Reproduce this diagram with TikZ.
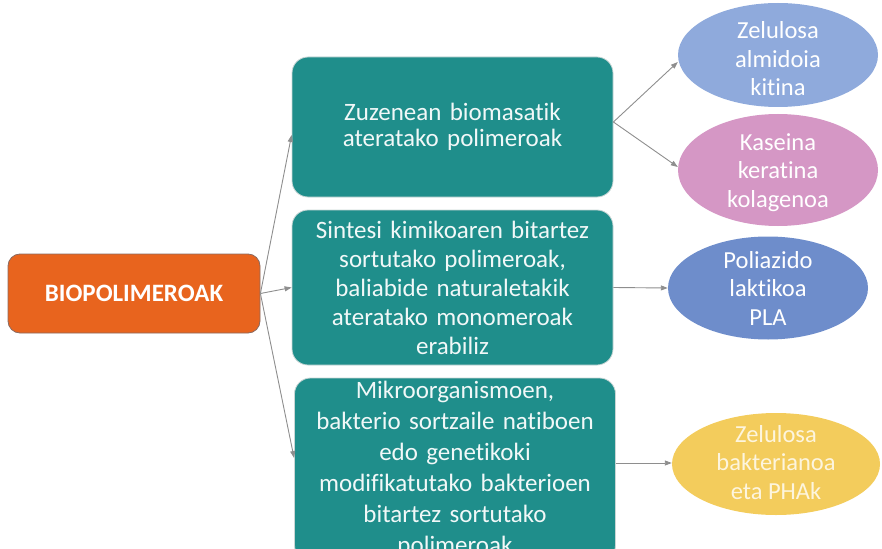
\documentclass[tikz,border=0pt]{standalone}
\usepackage{fontspec}
\setmainfont{Carlito}[Ligatures=NoCommon]
\usetikzlibrary{shapes.geometric,arrows.meta}
\definecolor{orangeF}{HTML}{E8641E}
\definecolor{orangeD}{HTML}{8A6A60}
\definecolor{tealF}{HTML}{1F8E8B}
\definecolor{tealD}{HTML}{C9D6D5}
\definecolor{ellA}{HTML}{8FAADC}
\definecolor{ellB}{HTML}{D597C5}
\definecolor{ellC}{HTML}{6E8DCB}
\definecolor{ellD}{HTML}{F3CC5C}
\definecolor{arrowG}{HTML}{8E8E8E}
\newcommand{\leaftext}[2]{\raisebox{-#1}[0pt][0pt]{\begin{tabular}{@{}c@{}}#2\end{tabular}}}
\begin{document}
\begin{tikzpicture}[x=1pt,y=-1pt,
  rootbox/.style={draw=orangeD, line width=0.8pt, fill=orangeF, rounded corners=12pt,
    minimum width=252pt, minimum height=79pt, inner sep=0pt, text=white,
    font={\fontsize{25}{28}\selectfont\bfseries}},
  midbox/.style={draw=tealD, line width=0.8pt, fill=tealF, rounded corners=16pt,
    minimum width=321pt, inner sep=2pt, text width=314pt, align=center, text=white!94!tealF},
  leaf/.style={ellipse, inner sep=0pt, minimum width=200pt, minimum height=104pt, text=white,
    font={\fontsize{24.5}{28.5}\selectfont}},
  conn/.style={draw=arrowG, line width=0.9pt, -{Triangle[length=7pt,width=5pt]}}
]
\useasboundingbox (0,0) rectangle (882,548);
\clip (0,0) rectangle (882,548);

\node[rootbox] (root) at (134,293.5) {BIOPOLIMEROAK};

\node[midbox, minimum height=140pt, font={\fontsize{25}{25.5}\selectfont\spaceskip=0.17em\relax}] (b1) at (452.5,127) {Zuzenean biomasatik\\ateratako polimeroak};
\node[midbox, minimum height=155pt, font={\fontsize{25}{29}\selectfont\spaceskip=0.17em\relax}] (b2) at (452.5,287.5) {Sintesi kimikoaren bitartez\\sortutako polimeroak,\\baliabide naturaletakik\\ateratako monomeroak\\erabiliz};
\node[midbox, minimum height=183pt, font={\fontsize{25}{31}\selectfont\spaceskip=0.17em\relax}] (b3) at (455,469.5) {Mikroorganismoen,\\bakterio sortzaile natiboen\\edo genetikoki\\modifikatutako bakterioen\\bitartez sortutako\\polimeroak};

\node[leaf, fill=ellA] (e1) at (778,55) {\leaftext{13pt}{Zelulosa\\almidoia\\kitina}};
\node[leaf, fill=ellB, minimum height=112pt] (e2) at (778,170) {\leaftext{9.5pt}{Kaseina\\keratina\\kolagenoa}};
\node[leaf, fill=ellC, minimum height=103pt] (e3) at (768,288) {\leaftext{9.4pt}{Poliazido\\laktikoa\\PLA}};
\node[leaf, fill=ellD, minimum width=208pt, minimum height=102pt, text=white!80!ellD] (e4) at (776,464) {\leaftext{7.4pt}{Zelulosa\\bakterianoa\\eta PHAk}};

\draw[conn] (root.east) -- ([yshift=-8pt]b1.west);
\draw[conn] (root.east) -- (b2.west);
\draw[conn] (root.east) -- ([yshift=11.5pt]b3.west);
\draw[conn] ([yshift=5pt]b1.east) -- ([yshift=-7pt]e1.west);
\draw[conn] ([yshift=5pt]b1.east) -- ([yshift=3pt]e2.west);
\draw[conn] (b2.east) -- (e3.west);
\draw[conn] ([yshift=6.5pt]b3.east) -- ([yshift=1pt]e4.west);
\end{tikzpicture}
\end{document}
